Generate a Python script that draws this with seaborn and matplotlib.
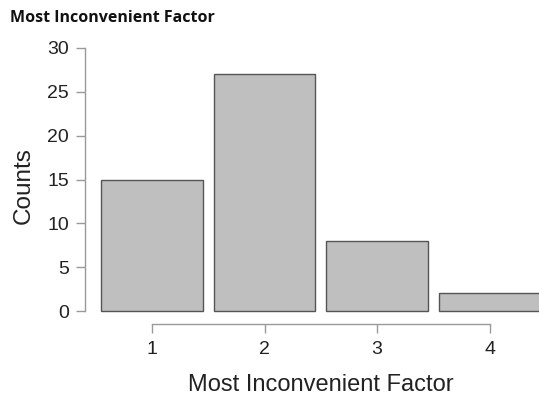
import matplotlib
matplotlib.use("Agg")
import matplotlib.pyplot as plt
import seaborn as sns
import pandas as pd

factors = [1, 2, 3, 4]
counts = [15, 27, 8, 2]
y_ticks = [0, 5, 10, 15, 20, 25, 30]

sns.set_style("white")
plt.rcParams['font.family'] = ['Liberation Sans', 'DejaVu Sans']

df = pd.DataFrame({"factor": factors, "count": counts})

fig = plt.figure(figsize=(5.39, 3.97), dpi=100)
ax = fig.add_axes([85/539, (397-324)/397, 1 - 85/539, (324-48)/397])

sns.barplot(data=df, x="factor", y="count", native_scale=True, width=0.9,
            color="#bfbfbf", edgecolor="#555555", linewidth=1.0,
            saturation=1, ax=ax)

ax.set_xlim(0.404, 4.44)
ax.set_ylim(-1.48, 30)
ax.set_yticks(y_ticks)
ax.set_xticks(factors)
ax.set_xticklabels([str(f) for f in factors])

for s in ["top", "right"]:
    ax.spines[s].set_visible(False)
ax.spines["left"].set_bounds(0, 30)
ax.spines["bottom"].set_bounds(1, 4)
for s in ["left", "bottom"]:
    ax.spines[s].set_color("#999999")
    ax.spines[s].set_linewidth(1.0)

ax.tick_params(axis="both", which="both", direction="out", length=6.5, width=1.0,
               color="#999999", labelsize=14, labelcolor="#222222",
               left=True, bottom=True)
ax.tick_params(axis="y", pad=5)
ax.tick_params(axis="x", pad=6)
ax.set_xlabel("Most Inconvenient Factor", fontsize=17, color="#222222", labelpad=11, x=0.52)
ax.set_ylabel("Counts", fontsize=17.5, color="#222222", labelpad=9)

fig.text(10/539, 1 - 18/397, "Most Inconvenient Factor", fontsize=11.5,
         fontweight="bold", family=["Open Sans", "DejaVu Sans"], va="center", ha="left",
         color="#111111")

fig.savefig("out.png", dpi=100)
